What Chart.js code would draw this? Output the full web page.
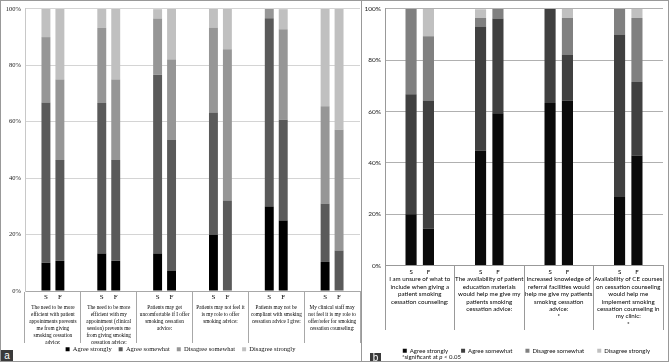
<!DOCTYPE html>
<html>
<head>
<meta charset="utf-8">
<script src="https://cdn.jsdelivr.net/npm/chart.js@4.4.1/dist/chart.umd.min.js"></script>
<style>
  body { margin: 0; background: #fff; }
  #wrap { position: relative; width: 669px; height: 362px; box-sizing: border-box; border: 1px solid #999; overflow: hidden; }
  #chartA { position: absolute; left: 0; top: 0; }
  #chartB { position: absolute; left: 361px; top: 0; }
  #divider { position: absolute; left: 360px; top: 0; width: 1px; height: 360px; background: #999; }
  .tag { position: absolute; background: #3a3a3a; color: #fff; font: 10px "Liberation Sans", Arial, sans-serif; text-align: center; }
  .note { position: absolute; left: 401px; top: 352px; font: 6px Lato, sans-serif; line-height: 8px; color: #111; white-space: nowrap; }
</style>
</head>
<body>
<div id="wrap">
  <canvas id="chartA" width="360" height="360"></canvas>
  <div id="divider"></div>
  <canvas id="chartB" width="306" height="360"></canvas>
  <div class="tag" style="left:0;top:349px;width:12px;height:12px;line-height:11px;">a</div>
  <div class="tag" style="left:369px;top:352px;width:11px;height:9px;line-height:9px;">b</div>
  <div class="note">*significant at <i>p</i> &lt; 0.05</div>
</div>
<script>
// answer categories (one dataset per category and per group)
const seriesNames = ['Agree strongly', 'Agree somewhat', 'Disagree somewhat', 'Disagree strongly'];
const groupNames = ['S', 'F'];

// panel a statements
const statementsA = [
  ['The need to be more', 'efficient with patient', 'appointments prevents', 'me from giving', 'smoking cessation', 'advice:'],
  ['The need to be more', 'efficient with my', 'appointment (clinical', 'session) prevents me', 'from giving smoking', 'cessation advice:'],
  ['Patients may get', 'uncomfortable if I offer', 'smoking cessation', 'advice:'],
  ['Patients may not feel it', 'is my role to offer', 'smoking advice:'],
  ['Patients may not be', 'compliant with smoking', 'cessation advice I give:'],
  ['My clinical staff may', 'not feel it is my role to', 'offer/refer for smoking', 'cessation counseling:']
];
// rows follow seriesNames, columns follow statementsA (percent)
const valuesAS = [
  [10, 13.3, 13.3, 20, 30, 10.3],
  [56.7, 53.3, 63.3, 43.3, 66.7, 20.7],
  [23.3, 26.7, 20, 30, 3.3, 34.5],
  [10, 6.7, 3.3, 6.7, 0, 34.5]
];
const valuesAF = [
  [10.7, 10.7, 7.1, 0, 25, 0],
  [35.7, 35.7, 46.4, 32.1, 35.7, 14.3],
  [28.6, 28.6, 28.6, 53.6, 32.1, 42.9],
  [25, 25, 17.9, 14.3, 7.1, 42.9]
];

// panel b statements
const statementsB = [
  ['I am unsure of what to', 'include when giving a', 'patient smoking', 'cessation counseling:'],
  ['The availability of patient', 'education materials', 'would help me give my', 'patients smoking', 'cessation advice:'],
  ['Increased knowledge of', 'referral facilities would', 'help me give my patients', 'smoking cessation', 'advice:', '*'],
  ['Availability of CE courses', 'on cessation counseling', 'would help me', 'implement smoking', 'cessation counseling in', 'my clinic:', '*']
];
const valuesBS = [
  [20, 44.8, 63.3, 26.7],
  [46.7, 48.3, 36.7, 63.3],
  [33.3, 3.4, 0, 10],
  [0, 3.4, 0, 0]
];
const valuesBF = [
  [14.3, 59.3, 64.3, 42.9],
  [50, 37, 17.9, 28.6],
  [25, 3.7, 14.3, 25],
  [10.7, 0, 3.6, 3.6]
];
const yTicks = [0, 20, 40, 60, 80, 100];

const coloursA = ['#000000', '#5a5a5a', '#969696', '#c0c0c0'];
const coloursB = ['#0a0a0a', '#404040', '#808080', '#c0c0c0'];

// draws S/F under the bars and the statement text under each category
const axisText = {
  id: 'axisText',
  afterDraw(chart, args, opts) {
    const ctx = chart.ctx;
    const xScale = chart.scales.x;
    const base = xScale.top;
    ctx.save();
    ctx.fillStyle = opts.color;
    ctx.textAlign = 'center';
    ctx.textBaseline = 'middle';
    ctx.font = opts.font;
    [0, seriesNames.length].forEach((di, k) => {
      chart.getDatasetMeta(di).data.forEach(bar => {
        ctx.fillText(groupNames[k], bar.x, base + opts.groupOffset);
      });
    });
    chart.data.labels.forEach((lines, i) => {
      const cx = xScale.getPixelForValue(i);
      lines.forEach((line, j) => {
        ctx.save();
        ctx.translate(cx, base + opts.textOffset + j * opts.lineHeight);
        ctx.scale(opts.squeeze, 1);
        ctx.fillText(line, 0, 0);
        ctx.restore();
      });
    });
    ctx.restore();
  }
};

function buildDatasets(sVals, fVals, colours) {
  const sets = [];
  [sVals, fVals].forEach((vals, g) => {
    vals.forEach((row, i) => {
      sets.push({
        label: seriesNames[i],
        data: row,
        stack: groupNames[g],
        backgroundColor: colours[i],
        borderWidth: 0,
        categoryPercentage: 0.5,
        barPercentage: 0.64
      });
    });
  });
  return sets;
}

function makeChart(id, labels, sVals, fVals, colours, cfg) {
  return new Chart(document.getElementById(id), {
    type: 'bar',
    data: { labels: labels, datasets: buildDatasets(sVals, fVals, colours) },
    plugins: [axisText],
    options: {
      responsive: false,
      animation: false,
      layout: { padding: cfg.padding },
      scales: {
        x: {
          stacked: true,
          grid: { offset: true, drawOnChartArea: false, drawTicks: true, tickLength: cfg.tickLength, color: cfg.sepColour },
          border: { display: true, color: cfg.sepColour },
          ticks: { display: false },
          afterFit: s => { s.height = cfg.xHeight; }
        },
        y: {
          stacked: true,
          min: 0,
          max: 100,
          afterBuildTicks: s => { s.ticks = yTicks.map(v => ({ value: v })); },
          grid: { color: cfg.gridColour, drawTicks: false },
          border: { display: true, color: cfg.axisColour },
          ticks: {
            padding: 4,
            color: '#222',
            font: { family: cfg.family, size: 6.5 },
            callback: v => v + '%'
          },
          afterFit: s => { s.width = cfg.yWidth; }
        }
      },
      plugins: {
        legend: {
          position: 'bottom',
          align: cfg.legendAlign,
          maxHeight: cfg.legendHeight,
          labels: {
            boxWidth: 4,
            boxHeight: 4,
            padding: cfg.legendPad,
            color: '#111',
            font: { family: cfg.family, size: cfg.legendSize },
            filter: item => item.datasetIndex < seriesNames.length
          }
        },
        tooltip: { enabled: false },
        axisText: {
          color: '#000',
          font: cfg.textFont,
          groupOffset: cfg.groupOffset,
          textOffset: cfg.textOffset,
          lineHeight: cfg.lineHeight,
          squeeze: cfg.squeeze
        }
      }
    }
  });
}

makeChart('chartA', statementsA, valuesAS, valuesAF, coloursA, {
  padding: { left: 0, right: 1, top: 6, bottom: 0 },
  tickLength: 52, xHeight: 48, yWidth: 24,
  sepColour: '#a8a8a8', gridColour: '#d4d4d4', axisColour: '#c8c8c8',
  family: '"Liberation Serif", serif',
  legendAlign: 'center', legendHeight: 22, legendPad: 7, legendSize: 6.5,
  textFont: '7px "Liberation Serif"', groupOffset: 6, textOffset: 15.7, lineHeight: 7, squeeze: 0.75
});

makeChart('chartB', statementsB, valuesBS, valuesBF, coloursB, {
  padding: { left: 0, right: 5, top: 7, bottom: 0 },
  tickLength: 64.5, xHeight: 69.2, yWidth: 23,
  sepColour: '#999', gridColour: '#b0b0b0', axisColour: '#999',
  family: 'Lato, sans-serif',
  legendAlign: 'end', legendHeight: 26.3, legendPad: 13, legendSize: 6,
  textFont: '6.2px Lato', groupOffset: 7, textOffset: 14, lineHeight: 7.4, squeeze: 1
});
</script>
</body>
</html>
